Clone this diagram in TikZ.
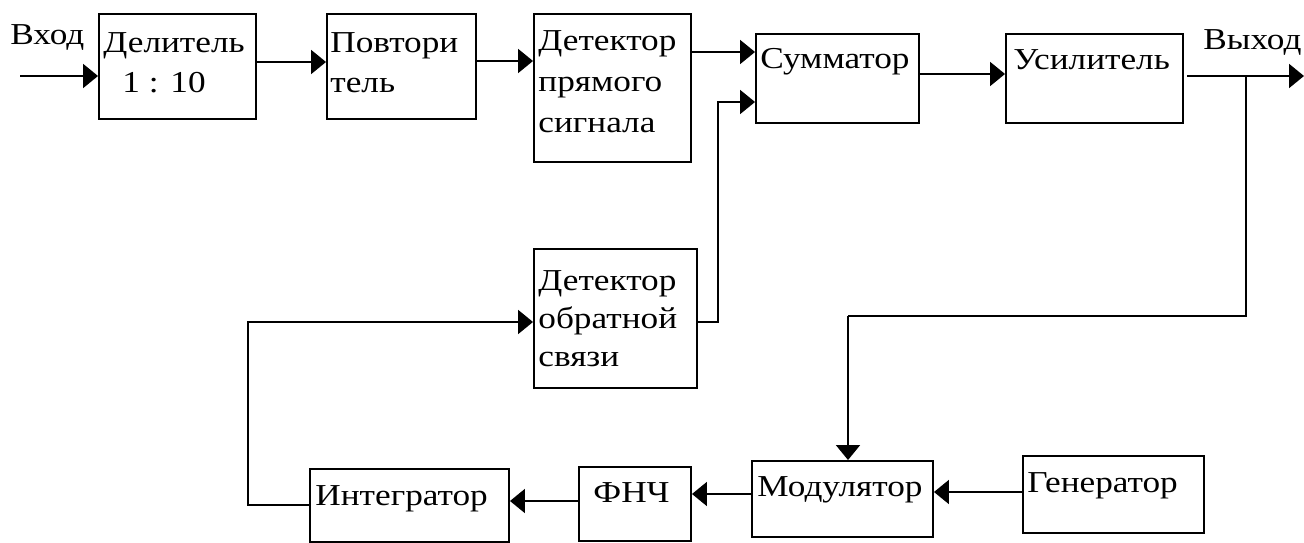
\documentclass[tikz,border=0pt]{standalone}
\usepackage{fontspec}
\setmainfont{Liberation Serif}
\usetikzlibrary{arrows.meta,fit}
\begin{document}
\begin{tikzpicture}[x=0.02cm,y=-0.02cm,
  blk/.style={draw, line width=1.1pt, inner sep=0pt},
  lbl/.style={anchor=base west, inner sep=0pt, xscale=1.16, transform shape,
    font=\fontsize{17.3}{20}\selectfont},
  wire/.style={line width=1.1pt},
  arr/.style={wire, -{Triangle[length=0.3cm,width=0.48cm]}}]
\useasboundingbox (0,0) rectangle (1304,543);

% blocks
\node[blk, fit={(99,14) (256,119)}] (del) {};
\node[blk, fit={(327,14) (476,119)}] (pov) {};
\node[blk, fit={(534,14) (691,162)}] (detp) {};
\node[blk, fit={(756,34) (919,123)}] (sum) {};
\node[blk, fit={(1006,34) (1183,123)}] (usil) {};
\node[blk, fit={(534,249) (697,388)}] (deto) {};
\node[blk, fit={(310,469) (509,542)}] (integ) {};
\node[blk, fit={(579,467) (691,541)}] (fnch) {};
\node[blk, fit={(752,461) (933,537)}] (mod) {};
\node[blk, fit={(1023,456) (1204,533)}] (gen) {};

% labels
\node[lbl] (tin) at (10,45) {Вход};
\node[lbl] (tout) at (1203,50) {Выход};
\node[lbl] (tdel1) at (103,53) {Делитель};
\node[lbl] (tdel2) at (122,93) {1 : 10};
\node[lbl] (tpov1) at (330,53) {Повтори};
\node[lbl] (tpov2) at (330,93) {тель};
\node[lbl] (tdp1) at (538,51) {Детектор};
\node[lbl] (tdp2) at (538,92) {прямого};
\node[lbl] (tdp3) at (538,133) {сигнала};
\node[lbl] (tsum) at (760,69) {Сумматор};
\node[lbl] (tusil) at (1013,70) {Усилитель};
\node[lbl] (tdo1) at (538,291) {Детектор};
\node[lbl] (tdo2) at (538,329) {обратной};
\node[lbl] (tdo3) at (538,367) {связи};
\node[lbl] (tint) at (315,505) {Интегратор};
\node[lbl] (tfnch) at (593,502) {ФНЧ};
\node[lbl] (tmod) at (757,496) {Модулятор};
\node[lbl] (tgen) at (1027,492) {Генератор};

% wire levels and bends
\coordinate (inS) at (20,76);
\coordinate (r1) at (0,62);
\coordinate (r2) at (0,61);
\coordinate (r3) at (0,52);
\coordinate (r4) at (0,102);
\coordinate (r5) at (0,74);
\coordinate (r7) at (0,322);
\coordinate (r9) at (0,492);
\coordinate (r10) at (0,494);
\coordinate (r11) at (0,501);
\coordinate (r12) at (0,505);
\coordinate (outS) at (1187,76);
\coordinate (outE) at (1304,76);
\coordinate (tap) at (1246,76);
\coordinate (fbR) at (1246,316);
\coordinate (fbL) at (848,316);
\coordinate (dj) at (718,322);
\coordinate (ij) at (248,505);

% forward chain
\draw[arr] (inS) -- (inS -| del.west);
\draw[arr] (del.east |- r1) -- (pov.west |- r1);
\draw[arr] (pov.east |- r2) -- (detp.west |- r2);
\draw[arr] (detp.east |- r3) -- (sum.west |- r3);
\draw[arr] (sum.east |- r5) -- (usil.west |- r5);
\draw[arr] (outS) -- (outE);

% feedback loop
\draw[wire] (tap) -- (fbR) -- (fbL);
\draw[arr] (fbL) -- (fbL |- mod.north);
\draw[arr] (gen.west |- r9) -- (mod.east |- r9);
\draw[arr] (mod.west |- r10) -- (fnch.east |- r10);
\draw[arr] (fnch.west |- r11) -- (integ.east |- r11);
\draw[arr] (integ.west |- r12) -- (ij) -- (ij |- r7) -- (deto.west |- r7);
\draw[arr] (deto.east |- r7) -- (dj) -- (dj |- r4) -- (sum.west |- r4);
\end{tikzpicture}
\end{document}
